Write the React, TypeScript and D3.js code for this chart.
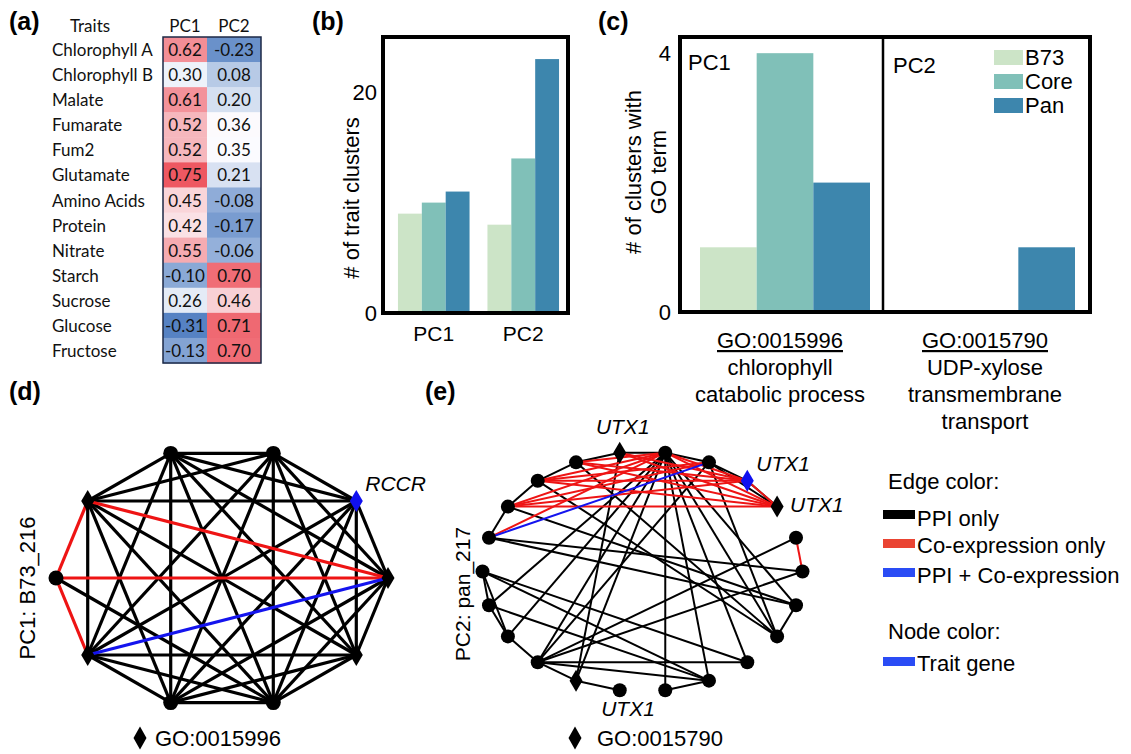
import * as d3 from "d3";

const SANS = "'Liberation Sans', Arial, sans-serif";
const CALI = "Lato, 'Open Sans', sans-serif";

// ---- (a) trait loadings
const traits = [
  "Chlorophyll A", "Chlorophyll B", "Malate", "Fumarate", "Fum2", "Glutamate",
  "Amino Acids", "Protein", "Nitrate", "Starch", "Sucrose", "Glucose", "Fructose",
];
const pc1Loadings = [0.62, 0.3, 0.61, 0.52, 0.52, 0.75, 0.45, 0.42, 0.55, -0.1, 0.26, -0.31, -0.13];
const pc2Loadings = [-0.23, 0.08, 0.2, 0.36, 0.35, 0.21, -0.08, -0.17, -0.06, 0.7, 0.46, 0.71, 0.7];
const loadingCols = ["PC1", "PC2"];

// ---- (b) trait clusters
const pcGroups = ["PC1", "PC2"];
const genomeSets = ["B73", "Core", "Pan"];
const b73Clusters = [9, 8];
const coreClusters = [10, 14];
const panClusters = [11, 23];
const clusterTicks = [0, 20];

// ---- (c) GO term clusters
const goIds = ["GO:0015996", "GO:0015790"];
const goPcs = ["PC1", "PC2"];
const goDescPC1 = ["chlorophyll", "catabolic process"];
const goDescPC2 = ["UDP-xylose", "transmembrane", "transport"];
const b73Go = [1, 0];
const coreGo = [4, 0];
const panGo = [2, 1];
const goTicks = [0, 4];

const setColors = ["#cce4c7", "#80c0b8", "#3d86ad"];

// ---- (d) network PC1: B73_216 (circle layout, node 0 at 3 o'clock, counter-clockwise)
const dShapes = ["diamond", "diamond", "circle", "circle", "diamond", "circle", "diamond", "circle", "circle", "diamond"];
const dTrait = [1];
const dEdges: [number, number, string][] = [
  [0, 1, "ppi"], [0, 2, "ppi"], [0, 3, "ppi"], [0, 7, "ppi"], [0, 8, "ppi"], [0, 9, "ppi"],
  [1, 2, "ppi"], [1, 3, "ppi"], [1, 4, "ppi"], [1, 6, "ppi"], [1, 7, "ppi"], [1, 8, "ppi"], [1, 9, "ppi"],
  [2, 3, "ppi"], [2, 4, "ppi"], [2, 6, "ppi"], [2, 7, "ppi"], [2, 8, "ppi"], [2, 9, "ppi"],
  [3, 4, "ppi"], [3, 6, "ppi"], [3, 7, "ppi"], [3, 8, "ppi"], [3, 9, "ppi"],
  [4, 6, "ppi"], [4, 7, "ppi"], [4, 8, "ppi"], [4, 9, "ppi"],
  [6, 7, "ppi"], [6, 8, "ppi"], [6, 9, "ppi"],
  [7, 8, "ppi"], [7, 9, "ppi"], [8, 9, "ppi"], [5, 8, "ppi"],
  [0, 4, "coexp"], [0, 5, "coexp"], [4, 5, "coexp"], [5, 6, "coexp"],
  [0, 6, "both"],
];
const dLabels: [number, string, string][] = [[1, "RCCR", "right"]];

// ---- (e) network PC2: pan_217
const eShapes = [
  "circle", "circle", "diamond", "diamond", "circle", "circle", "diamond", "circle", "circle", "circle", "circle",
  "circle", "circle", "circle", "circle", "diamond", "circle", "circle", "circle", "circle", "circle", "circle",
];
const eTrait = [3];
const eEdges: [number, number, string][] = [
  [10, 9, "ppi"], [9, 8, "ppi"], [8, 7, "ppi"], [7, 6, "ppi"], [6, 5, "ppi"], [5, 4, "ppi"], [4, 3, "ppi"],
  [3, 2, "ppi"], [4, 2, "ppi"], [11, 12, "ppi"], [12, 13, "ppi"], [11, 13, "ppi"], [13, 14, "ppi"],
  [14, 15, "ppi"], [15, 16, "ppi"], [17, 18, "ppi"], [20, 21, "ppi"],
  [5, 12, "ppi"], [5, 13, "ppi"], [5, 14, "ppi"], [5, 15, "ppi"], [5, 17, "ppi"], [5, 18, "ppi"],
  [5, 19, "ppi"], [5, 20, "ppi"], [5, 21, "ppi"], [4, 14, "ppi"], [4, 20, "ppi"], [6, 15, "ppi"],
  [7, 20, "ppi"], [8, 20, "ppi"], [9, 21, "ppi"], [10, 21, "ppi"], [10, 0, "ppi"],
  [11, 19, "ppi"], [11, 18, "ppi"], [12, 18, "ppi"], [14, 19, "ppi"], [14, 18, "ppi"],
  [14, 0, "ppi"], [14, 1, "ppi"],
  [9, 2, "coexp"], [9, 3, "coexp"], [8, 3, "coexp"], [8, 2, "coexp"], [7, 2, "coexp"], [7, 3, "coexp"],
  [7, 5, "coexp"], [8, 5, "coexp"], [9, 5, "coexp"], [10, 5, "coexp"], [5, 2, "coexp"], [5, 3, "coexp"],
  [4, 9, "coexp"], [4, 8, "coexp"], [3, 2, "coexp"], [6, 2, "coexp"], [6, 3, "coexp"], [1, 0, "coexp"],
  [10, 4, "both"],
];
const eLabels: [number, string, string][] = [
  [6, "UTX1", "above"], [3, "UTX1", "right"], [2, "UTX1", "farright"], [15, "UTX1", "below"],
];

// ---- legend
const edgeKinds = ["ppi", "coexp", "both"];
const edgeKindNames = ["PPI only", "Co-expression only", "PPI + Co-expression"];
const edgeColors: Record<string, string> = { ppi: "#000000", coexp: "#ee1414", both: "#1414ee" };
const legendSwatch = ["#000000", "#ea4432", "#2a4cf5"];

function diamond(w: number, h: number) {
  return `M0,${-h}L${w},0L0,${h}L${-w},0Z`;
}

type NetProps = {
  shapes: string[];
  trait: number[];
  edges: [number, number, string][];
  labels: [number, string, string][];
  cx: number; cy: number; rx: number; ry: number;
  r: number; sw: number;
};

function Network({ shapes, trait, edges, labels, cx, cy, rx, ry, r, sw }: NetProps) {
  const angle = d3.scaleLinear().domain([0, shapes.length]).range([0, 2 * Math.PI]);
  const pos = shapes.map((_, i) => [cx + rx * Math.cos(angle(i)), cy - ry * Math.sin(angle(i))]);
  const line = d3.line();
  const labelOff: Record<string, [number, number, string]> = {
    right: [9, -10, "start"],
    farright: [13, 5, "start"],
    above: [3, -19, "middle"],
    below: [52, 35, "middle"],
  };
  return (
    <g>
      {edgeKinds.map((k) =>
        edges.filter((e) => e[2] === k).map((e, i) => (
          <path key={k + i} d={line([pos[e[0]] as [number, number], pos[e[1]] as [number, number]]) || ""}
            stroke={edgeColors[k]} strokeWidth={sw} fill="none" />
        ))
      )}
      {shapes.map((s, i) => {
        const fill = trait.includes(i) ? "#1010f0" : "#000";
        return s === "circle" ? (
          <circle key={i} cx={pos[i][0]} cy={pos[i][1]} r={r} fill={fill} />
        ) : (
          <path key={i} d={diamond(6.5, 11)} transform={`translate(${pos[i][0]},${pos[i][1]})`} fill={fill} />
        );
      })}
      {labels.map(([i, t, where], k) => {
        const [dx, dy, anchor] = labelOff[where];
        return (
          <text key={k} x={pos[i][0] + dx} y={pos[i][1] + dy} textAnchor={anchor}
            fontFamily={SANS} fontStyle="italic" fontSize={21}>{t}</text>
        );
      })}
    </g>
  );
}

export default function App() {
  // (a)
  const allLoad = pc1Loadings.concat(pc2Loadings);
  const heat = d3.scaleLinear<string>()
    .domain([d3.min(allLoad)!, d3.median(allLoad)!, d3.max(allLoad)!])
    .range(["#5682c3", "#fcfcff", "#ee5862"]);
  const rowY = d3.scaleBand().domain(traits).range([37, 363]);
  const colLeft = [163, 207];
  const colW = [44, 54];
  const loadings = [pc1Loadings, pc2Loadings];

  // (b)
  const bx0 = d3.scaleBand().domain(pcGroups).range([389, 568]).paddingInner(0.2).paddingOuter(0.1);
  const bx1 = d3.scaleBand().domain(genomeSets).range([0, bx0.bandwidth()]);
  const by = d3.scaleLinear().domain([0, 25]).range([313, 37]);
  const clusterSeries = [b73Clusters, coreClusters, panClusters];

  // (c)
  const cx0 = d3.scaleBand().domain(goIds).range([680, 1090]);
  const cx1 = d3.scaleBand().domain(genomeSets).range([20, 190]);
  const cy = d3.scaleLinear().domain([0, 4.25]).range([312, 37]);
  const goSeries = [b73Go, coreGo, panGo];
  const goDescs = [goDescPC1, goDescPC2];

  return (
    <svg width={1131} height={754} style={{ position: "absolute", left: 0, top: 0, background: "#fff" }}>
      {/* panel letters */}
      {[["(a)", 9, 30], ["(b)", 312, 30], ["(c)", 598, 30], ["(d)", 9, 400], ["(e)", 425, 400]].map(([t, x, y]) => (
        <text key={t as string} x={x as number} y={y as number} fontFamily={SANS} fontWeight="bold" fontSize={25}>{t}</text>
      ))}

      {/* (a) heatmap */}
      <g fontFamily={CALI} fontSize={17} fill="#111">
        <text x={90} y={25} textAnchor="middle" dominantBaseline="central">Traits</text>
        {loadingCols.map((c, j) => (
          <text key={c} x={colLeft[j] + colW[j] / 2} y={25} textAnchor="middle" dominantBaseline="central">{c}</text>
        ))}
        {traits.map((t, i) => (
          <g key={t}>
            <text x={52} y={rowY(t)! + rowY.bandwidth() / 2} dominantBaseline="central">{t}</text>
            {loadings.map((vals, j) => (
              <g key={j}>
                <rect x={colLeft[j]} y={rowY(t)!} width={colW[j]} height={rowY.bandwidth() + 0.5} fill={heat(vals[i])} />
                <text x={colLeft[j] + colW[j] / 2} y={rowY(t)! + rowY.bandwidth() / 2} textAnchor="middle"
                  dominantBaseline="central">{vals[i].toFixed(2)}</text>
              </g>
            ))}
          </g>
        ))}
        <rect x={163} y={37} width={98} height={326} fill="none" stroke="#1c2946" strokeWidth={1.5} />
      </g>

      {/* (b) bars */}
      <g fontFamily={SANS}>
        {pcGroups.map((g, gi) =>
          genomeSets.map((s, si) => (
            <rect key={g + s} x={bx0(g)! + bx1(s)!} y={by(clusterSeries[si][gi])} width={bx1.bandwidth()}
              height={by(0) - by(clusterSeries[si][gi])} fill={setColors[si]} />
          ))
        )}
        <rect x={383} y={37} width={185} height={276} fill="none" stroke="#000" strokeWidth={4} />
        {clusterTicks.map((t) => (
          <text key={t} x={377} y={by(t)} textAnchor="end" dominantBaseline="central" fontSize={22}>{t}</text>
        ))}
        {pcGroups.map((g) => (
          <text key={g} x={bx0(g)! + bx0.bandwidth() / 2} y={341} textAnchor="middle" fontSize={21}>{g}</text>
        ))}
        <text transform="translate(351,198) rotate(-90)" textAnchor="middle" dominantBaseline="central" fontSize={22}>
          # of trait clusters
        </text>
      </g>

      {/* (c) bars */}
      <g fontFamily={SANS}>
        {goIds.map((g, gi) =>
          genomeSets.map((s, si) =>
            goSeries[si][gi] > 0 ? (
              <rect key={g + s} x={cx0(g)! + cx1(s)!} y={cy(goSeries[si][gi])} width={cx1.bandwidth()}
                height={cy(0) - cy(goSeries[si][gi])} fill={setColors[si]} />
            ) : null
          )
        )}
        <rect x={680} y={37} width={410} height={275} fill="none" stroke="#000" strokeWidth={4} />
        <line x1={cx0(goIds[1])! - 2} x2={cx0(goIds[1])! - 2} y1={37} y2={312} stroke="#000" strokeWidth={2.5} />
        {goPcs.map((p, i) => (
          <text key={p} x={cx0(goIds[i])! + (i === 0 ? 8 : 8)} y={i === 0 ? 70 : 73} fontSize={22}>{p}</text>
        ))}
        {goTicks.map((t) => (
          <text key={t} x={671} y={cy(t)} textAnchor="end" dominantBaseline="central" fontSize={22}>{t}</text>
        ))}
        <g transform="rotate(-90)" fontSize={22} textAnchor="middle">
          <text x={-172} y={641}># of clusters with</text>
          <text x={-172} y={666}>GO term</text>
        </g>
        {genomeSets.map((s, si) => (
          <g key={s}>
            <rect x={994} y={50 + si * 24} width={29} height={15} fill={setColors[si]} />
            <text x={1025} y={65 + si * 24} fontSize={22}>{s}</text>
          </g>
        ))}
        {goIds.map((g, gi) => (
          <g key={g} fontSize={22} textAnchor="middle">
            <text x={cx0(g)! + 100} y={348} textDecoration="underline">{g}</text>
            {goDescs[gi].map((d, k) => (
              <text key={d} x={cx0(g)! + 100} y={375 + k * 27}>{d}</text>
            ))}
          </g>
        ))}
      </g>

      {/* (d) network */}
      <Network shapes={dShapes} trait={dTrait} edges={dEdges} labels={dLabels}
        cx={222} cy={578} rx={166} ry={131} r={7.5} sw={3.2} />
      <text transform="translate(27,588) rotate(-90)" textAnchor="middle" dominantBaseline="central"
        fontFamily={SANS} fontSize={22}>PC1: B73_216</text>
      <path d={diamond(6.5, 11.5)} transform="translate(140,738)" fill="#000" />
      <text x={155} y={746} fontFamily={SANS} fontSize={22}>GO:0015996</text>

      {/* (e) network */}
      <Network shapes={eShapes} trait={eTrait} edges={eEdges} labels={eLabels}
        cx={642.5} cy={571.5} rx={160} ry={120} r={7} sw={2} />
      <text transform="translate(462,594) rotate(-90)" textAnchor="middle" dominantBaseline="central"
        fontFamily={SANS} fontSize={21}>PC2: pan_217</text>
      <path d={diamond(6.5, 11.5)} transform="translate(575,738)" fill="#000" />
      <text x={597} y={746} fontFamily={SANS} fontSize={22}>GO:0015790</text>

      {/* legend */}
      <g fontFamily={SANS} fontSize={22}>
        <text x={888} y={489}>Edge color:</text>
        {edgeKindNames.map((n, i) => (
          <g key={n}>
            <rect x={883} y={[510, 539, 568][i]} width={32} height={9} fill={legendSwatch[i]} />
            <text x={917} y={[526, 553, 583][i]}>{n}</text>
          </g>
        ))}
        <text x={888} y={639}>Node color:</text>
        <rect x={883} y={657} width={32} height={9} fill={legendSwatch[2]} />
        <text x={917} y={671}>Trait gene</text>
      </g>
    </svg>
  );
}
